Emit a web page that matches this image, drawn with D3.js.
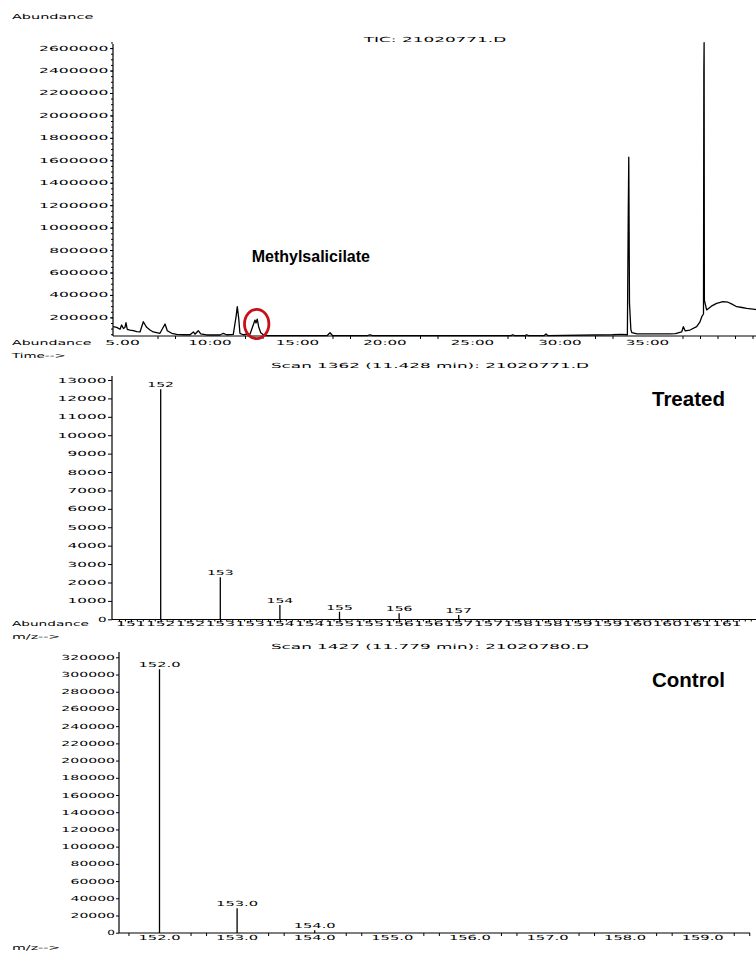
<!DOCTYPE html>
<html><head><meta charset="utf-8">
<script src="https://cdn.jsdelivr.net/npm/d3@7"></script>
<style>
body{margin:0;background:#fff}
svg{display:block}
.cs{font-family:"DejaVu Sans";font-size:7px;fill:#000}
.big{font-family:"Liberation Sans",Arial,sans-serif;font-weight:bold;fill:#000}
</style></head>
<body><svg id="c" width="756" height="953"></svg>
<script>
// ---------- DATA ----------
// TIC chromatogram (time in min, abundance in thousands)
const ticTime = [4.47,4.67,4.86,4.95,5.05,5.14,5.20,5.27,5.43,5.62,
  5.81,6.00,6.19,6.38,6.57,6.76,7.14,7.43,7.56,7.81,
  8.10,8.46,8.86,9.05,9.14,9.33,9.47,9.81,10.57,10.76,
  10.95,11.33,11.49,11.56,11.64,11.71,11.90,12.29,12.47,12.57,
  12.63,12.70,12.78,12.90,13.05,13.24,14.50,16.70,16.86,17.00,
  19.00,19.14,19.30,22.00,27.20,27.30,27.40,28.00,28.10,28.20,
  29.10,29.20,29.30,33.00,33.50,33.85,33.90,33.93,33.97,34.05,
  34.11,34.40,35.50,36.29,36.60,36.95,37.05,37.15,37.43,37.81,
  38.00,38.10,38.20,38.22,38.235,38.25,38.38,38.65,38.95,39.31,
  39.60,39.80,40.10,40.40,40.67,41.14,41.20];
const ticAbundK = [117,111,94,132,100,110,152,94,87,81,
  72,70,161,111,87,70,58,141,81,58,
  49,45,45,70,50,81,52,43,43,58,
  45,48,206,295,192,58,45,52,132,176,
  150,185,117,63,45,37,38,38,63,38,
  38,45,38,38,38,45,38,38,45,38,
  38,52,38,45,48,45,1110,1627,330,90,
  63,52,52,52,55,70,117,80,87,117,
  160,206,230,2400,2648,354,266,300,325,340,
  335,320,295,288,281,272,270];
const ticYTicks = [200000,400000,600000,800000,1000000,1200000,1400000,1600000,1800000,2000000,2200000,2400000,2600000];
const ticXTimes = [5,10,15,20,25,30,35];
const ticXLabels = ["5.00","10:00","15:00","20:00","25:00","30:00","35:00"];
const ticMinor = [7,8,12,13,17,18,22,23,27,28,32,33,37,38,39,40,41];

// Treated mass spectrum
const treatedMz = [152,153,154,155,156,157];
const treatedAbund = [12500,2280,780,410,330,230];
const treatedYTicks = [0,1000,2000,3000,4000,5000,6000,7000,8000,9000,10000,11000,12000,13000];
const treatedXTicks = [151.5,152,152.5,153,153.5,154,154.5,155,155.5,156,156.5,157,157.5,158,158.5,159,159.5,160,160.5,161,161.5];

// Control mass spectrum
const controlMz = [152.0,153.0,154.0];
const controlAbund = [306000,28400,2800];
const controlYTicks = [0,20000,40000,60000,80000,100000,120000,140000,160000,180000,200000,220000,240000,260000,280000,300000,320000];
const controlXTicks = [152,153,154,155,156,157,158,159];

// ---------- DRAW ----------
const svg = d3.select("#c");
const CW = 9.4;
function txt(x, y, s, anchor, cw, gap){
  const t = svg.append("text").attr("class","cs").attr("x",x).attr("y",y+2.5)
    .attr("text-anchor",anchor||"start").text(s);
  t.attr("textLength", s.length*(cw||CW)-(gap===undefined?1.5:gap)).attr("lengthAdjust","spacingAndGlyphs");
  return t;
}
function line(x1,y1,x2,y2,w){
  svg.append("line").attr("x1",x1).attr("y1",y1).attr("x2",x2).attr("y2",y2)
    .attr("stroke","#000").attr("stroke-width",w||1);
}
function ticks(axis, tx, ty){
  const g = svg.append("g").attr("transform",`translate(${tx},${ty})`).call(axis);
  g.select(".domain").remove();
  g.selectAll("text").remove();
  g.selectAll("line").attr("stroke","#000");
  return g;
}

// ===== TOP: TIC =====
const xT = d3.scaleLinear().domain([5,35]).range([122.5,647.5]);
const yT = d3.scaleLinear().domain([0,2600000]).range([339.8,48.1]);
const axT = 336, ayT = 113;

txt(12,16,"Abundance","start",9.2);
txt(435,39,"TIC: 21020771.D","middle",9.6);

ticks(d3.axisLeft(yT).tickValues(ticYTicks).tickSize(3).tickFormat(""), ayT, 0);
ticks(d3.axisLeft(yT).tickValues(d3.range(50000,2650001,50000)).tickSize(2).tickFormat(""), ayT, 0);
ticYTicks.forEach(v => txt(108.3, yT(v), String(v), "end", 10.1));

ticks(d3.axisBottom(xT).tickValues(ticMinor).tickSize(3).tickFormat(""), 0, axT);
ticXTimes.forEach((t,i) => txt(xT(t), 342.7, ticXLabels[i], "middle", 9.0));

const ticData = ticTime.map((t,i)=>[t, ticAbundK[i]*1000]);
svg.append("path").datum(ticData)
  .attr("d", d3.line().x(d=>xT(d[0])).y(d=>yT(d[1])))
  .attr("fill","none").attr("stroke","#000").attr("stroke-width",1.3).attr("stroke-linejoin","round");

line(ayT,axT,756,axT,1.2);
line(ayT,axT,ayT,44,1.2);

svg.append("ellipse").attr("cx",256.7).attr("cy",324).attr("rx",12.2).attr("ry",14.6)
  .attr("fill","none").attr("stroke","#c8101a").attr("stroke-width",2.8);
svg.append("text").attr("class","big").attr("x",251.7).attr("y",261.5)
  .attr("font-size",16).text("Methylsalicilate");

txt(12,342.7,"Abundance","start",9.0);
txt(12,355,"Time-->","start",7.9);

// ===== MIDDLE: Treated =====
const xM = d3.scaleLinear().domain([152,157]).range([160.7,458.7]);
const yM = d3.scaleLinear().domain([0,13000]).range([619.3,380]);
const axM = 619.5, ayM = 112;

txt(430,365,"Scan 1362 (11.428 min): 21020771.D","middle",9.4);
ticks(d3.axisLeft(yM).tickValues(treatedYTicks).tickSize(4).tickFormat(""), ayM, 0);
treatedYTicks.forEach(v => txt(106.5, yM(v), String(v), "end", 10.1));
ticks(d3.axisBottom(xM).tickValues(d3.range(151.3,162,0.1)).tickSize(2).tickFormat(""), 0, axM);
ticks(d3.axisBottom(xM).tickValues(treatedXTicks).tickSize(3).tickFormat(""), 0, axM);
treatedXTicks.forEach(m => txt(xM(m), 623.8, String(Math.floor(m)), "middle", 9.93, 0.3));

treatedMz.forEach((m,i) => {
  line(xM(m), axM, xM(m), yM(treatedAbund[i]), 1.3);
  txt(xM(m), yM(treatedAbund[i])-4.5, String(m), "middle", 9.4);
});
line(ayM,axM,756,axM,1.2);
line(ayM,axM,ayM,376,1.2);

svg.append("text").attr("class","big").attr("x",652).attr("y",405.5)
  .attr("font-size",20.5).text("Treated");

txt(12,623.3,"Abundance","start",8.7);
txt(12,636.7,"m/z-->","start",8.3);

// ===== BOTTOM: Control =====
const xB = d3.scaleLinear().domain([152,159]).range([159.5,702.7]);
const yB = d3.scaleLinear().domain([0,320000]).range([932.7,657.3]);
const axB = 933, ayB = 119;

txt(430,646.7,"Scan 1427 (11.779 min): 21020780.D","middle",9.4);
ticks(d3.axisLeft(yB).tickValues(controlYTicks).tickSize(3).tickFormat(""), ayB, 0);
controlYTicks.forEach(v => txt(115, yB(v), String(v), "end", 9.2));
const bMinor = [];
for (let m=151; m<=159; m++) { bMinor.push(m+0.4, m+0.6); }
ticks(d3.axisBottom(xB).tickValues(bMinor.filter(m=>m>151.5&&m<159.7)).tickSize(3).tickFormat(""), 0, axB);
controlXTicks.forEach(m => txt(xB(m), 937.7, m.toFixed(1), "middle", 8.7));

controlMz.forEach((m,i) => {
  line(xB(m), axB, xB(m), yB(controlAbund[i]), 1.3);
  txt(xB(m), yB(controlAbund[i])-4.5, m.toFixed(1), "middle", 8.7);
});
line(ayB,axB,750,axB,1.2);
line(ayB,axB,ayB,652,1.2);

svg.append("text").attr("class","big").attr("x",652).attr("y",686.5)
  .attr("font-size",20.5).text("Control");

txt(12,947.5,"m/z-->","start",8.3);
</script></body></html>
